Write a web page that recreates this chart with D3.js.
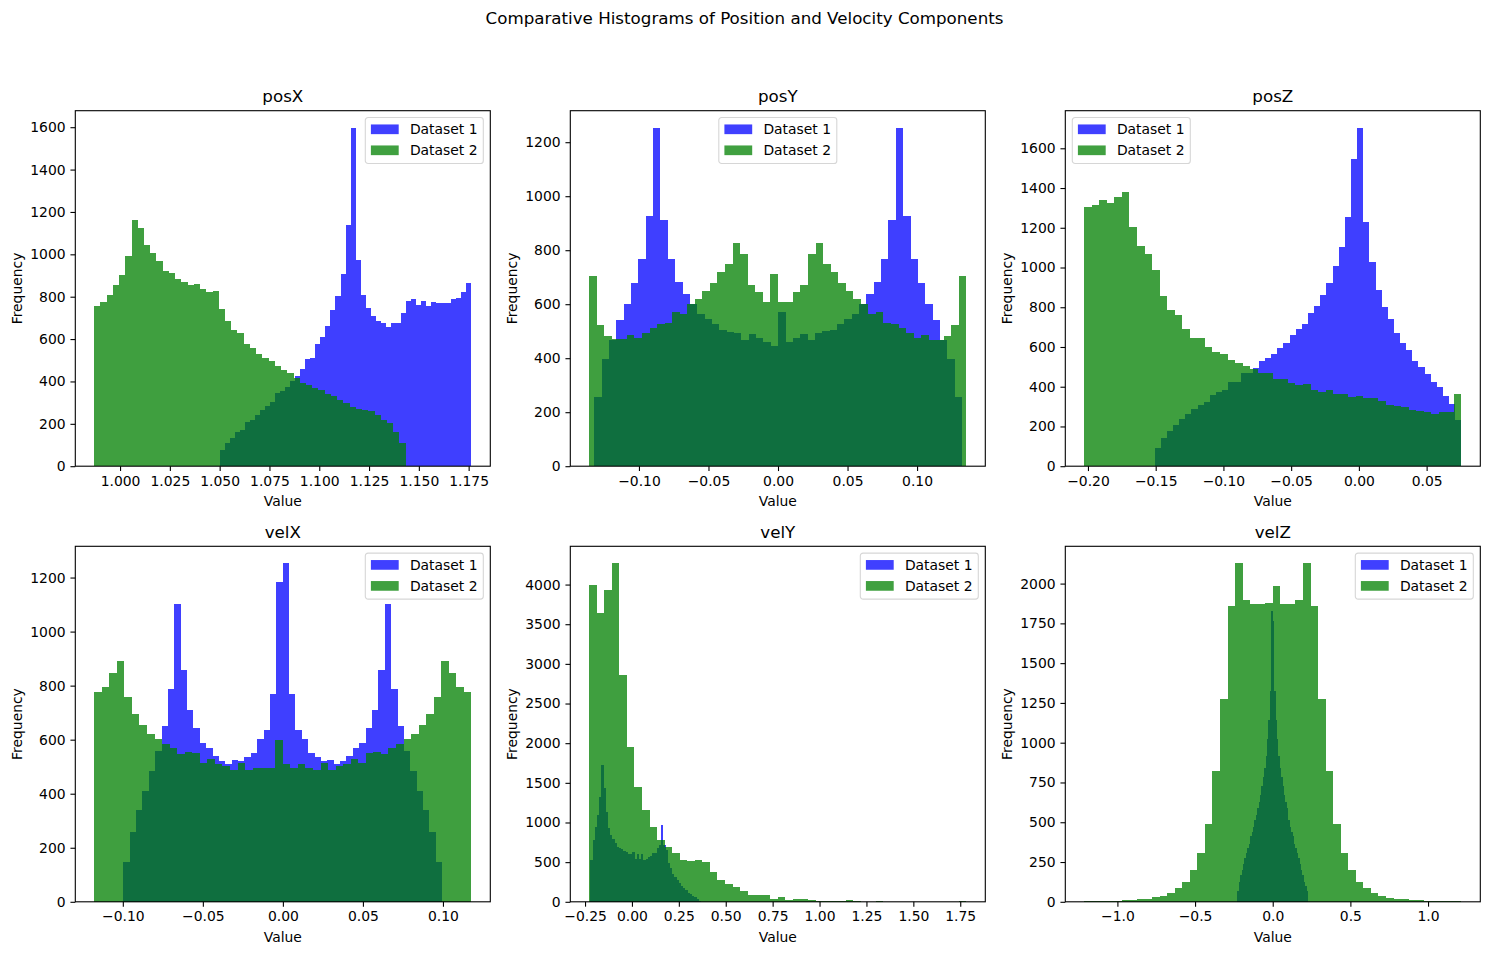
<!DOCTYPE html>
<html><head><meta charset="utf-8">
<script src="https://cdn.jsdelivr.net/npm/d3@7"></script>
<style>body{margin:0;background:#fff}svg{display:block}text{font-family:"DejaVu Sans",sans-serif;fill:#000}</style>
</head><body><svg id="c" width="1489" height="955"></svg>
<script>
const suptitle = "Comparative Histograms of Position and Velocity Components";
const panelNames = ["posX","posY","posZ","velX","velY","velZ"];
const seriesNames = ["Dataset 1","Dataset 2"];
const xLabel = "Value", yLabel = "Frequency";

// bin ranges [min, max] (50 bins each)
const posX_range1 = [1.0500, 1.1764];
const posX_range2 = [0.9870, 1.1434];
const posY_range1 = [-0.1321, 0.1323];
const posY_range2 = [-0.1358, 0.1355];
const posZ_range1 = [-0.1508, 0.0757];
const posZ_range2 = [-0.2028, 0.0757];
const velX_range1 = [-0.0997, 0.0995];
const velX_range2 = [-0.1179, 0.1178];
const velY_range1 = [-0.222, 0.368];
const velY_range2 = [-0.228, 1.783];
const velZ_range1 = [-0.2275, 0.2275];
const velZ_range2 = [-1.214, 1.215];

// counts
const posX_counts1 = [75,108,132,160,170,207,217,240,264,283,301,344,353,372,400,424,457,504,513,579,612,664,735,801,909,1140,1598,975,810,749,707,683,674,655,678,678,721,782,787,763,782,758,777,772,772,772,787,796,820,867];
const posX_counts2 = [754,777,810,853,904,994,1163,1126,1046,1008,970,923,914,885,871,857,862,838,820,829,744,683,641,631,575,556,528,513,495,471,452,440,414,391,382,367,358,339,330,311,297,278,268,264,259,240,217,203,160,108];
const posY_counts1 = [257,396,468,541,600,678,767,926,1254,911,767,681,637,599,565,544,526,504,496,493,467,489,474,459,444,570,459,474,489,467,493,500,504,526,544,565,599,637,681,767,911,1254,926,767,678,600,541,468,396,257];
const posY_counts2 = [704,522,481,470,470,485,474,493,511,526,530,570,565,599,621,648,678,718,748,826,785,670,644,607,711,607,607,644,670,785,826,748,718,678,648,621,599,565,570,530,526,511,493,474,485,468,468,481,522,704];
const posZ_counts1 = [90,141,176,206,236,261,286,306,321,356,372,382,422,422,467,470,492,527,547,567,597,618,658,688,718,773,808,864,924,1009,1105,1255,1546,1704,1230,1029,889,803,743,668,618,587,527,497,462,422,397,351,311,231];
const posZ_counts2 = [1305,1315,1341,1325,1356,1381,1205,1110,1069,989,859,788,763,693,643,643,602,577,567,532,517,502,490,467,467,437,437,417,407,412,382,372,382,361,361,346,351,341,341,326,306,301,296,281,276,271,261,271,271,361];
const velX_counts1 = [148,259,340,410,484,558,651,787,1102,858,710,643,588,569,540,521,510,525,521,536,551,603,636,769,1183,1253,769,636,603,551,536,521,525,510,521,540,569,588,643,710,858,1102,787,651,558,484,410,340,259,148];
const velX_counts2 = [776,795,847,891,758,695,654,621,603,584,569,547,554,551,514,529,510,503,488,514,488,495,495,495,599,510,495,510,495,488,514,488,503,510,529,514,551,554,547,569,584,603,621,654,695,758,891,847,795,776];
const velY_counts1 = [526,779,947,1095,1326,1726,1431,1137,926,842,787,737,695,674,661,640,632,602,602,632,539,602,539,602,526,539,568,577,610,619,674,716,968,716,653,484,421,349,316,274,232,198,168,147,114,93,76,55,34,13];
const velY_counts2 = [3992,3640,3929,4269,2859,1948,1448,1159,945,781,693,617,529,516,529,504,378,277,227,189,139,88,88,88,38,63,25,38,38,25,13,13,13,13,25,13,3,2,13,0,0,0,0,0,0,0,0,0,0,13];
const velZ_counts1 = [69,126,170,201,239,277,308,340,365,415,441,472,516,548,592,629,673,730,787,843,919,1026,1145,1322,1825,1762,1322,1145,1026,919,843,787,730,673,629,592,516,472,441,415,365,340,308,277,239,201,170,126,100,69];
const velZ_counts2 = [6,2,6,8,6,13,13,19,19,31,38,56,88,126,201,308,490,822,1274,1858,2128,1895,1870,1870,1877,1983,1870,1870,1895,2128,1858,1274,822,490,308,201,126,88,56,38,25,19,19,13,13,6,6,6,2,6];

// ticks
const posX_xticks = [1.000,1.025,1.050,1.075,1.100,1.125,1.150,1.175];
const posX_yticks = [0,200,400,600,800,1000,1200,1400,1600];
const posY_xticks = [-0.10,-0.05,0.00,0.05,0.10];
const posY_yticks = [0,200,400,600,800,1000,1200];
const posZ_xticks = [-0.20,-0.15,-0.10,-0.05,0.00,0.05];
const posZ_yticks = [0,200,400,600,800,1000,1200,1400,1600];
const velX_xticks = [-0.10,-0.05,0.00,0.05,0.10];
const velX_yticks = [0,200,400,600,800,1000,1200];
const velY_xticks = [-0.25,0.00,0.25,0.50,0.75,1.00,1.25,1.50,1.75];
const velY_yticks = [0,500,1000,1500,2000,2500,3000,3500,4000];
const velZ_xticks = [-1.0,-0.5,0.0,0.5,1.0];
const velZ_yticks = [0,250,500,750,1000,1250,1500,1750,2000];

const xtickFormats = [".3f",".2f",".2f",".2f",".2f",".1f"];

const panels = [
  {r1:posX_range1,r2:posX_range2,c1:posX_counts1,c2:posX_counts2,xt:posX_xticks,yt:posX_yticks},
  {r1:posY_range1,r2:posY_range2,c1:posY_counts1,c2:posY_counts2,xt:posY_xticks,yt:posY_yticks},
  {r1:posZ_range1,r2:posZ_range2,c1:posZ_counts1,c2:posZ_counts2,xt:posZ_xticks,yt:posZ_yticks},
  {r1:velX_range1,r2:velX_range2,c1:velX_counts1,c2:velX_counts2,xt:velX_xticks,yt:velX_yticks},
  {r1:velY_range1,r2:velY_range2,c1:velY_counts1,c2:velY_counts2,xt:velY_xticks,yt:velY_yticks},
  {r1:velZ_range1,r2:velZ_range2,c1:velZ_counts1,c2:velZ_counts2,xt:velZ_xticks,yt:velZ_yticks}
];
const legendLocs = ["upper right","upper center","upper left","upper right","upper right","upper right"];

// layout
const colLeft = [75.3, 570.3, 1065.3], axW = 415;
const rowTop = [110.7, 546.3], axH = 355.5;
const FS = 13.9, TFS = 16.7, TICK = 4.86;
const colors = ["blue","green"];

const svg = d3.select("#c");
svg.append("text").attr("x",744.5).attr("y",24).attr("text-anchor","middle")
  .style("font-size",TFS+"px").text(suptitle);

const minus = s => s.replace(/-/g,"\u2212");

panels.forEach((p,idx)=>{
  const left = colLeft[idx%3], top = rowTop[Math.floor(idx/3)];
  const right = left+axW, bottom = top+axH;
  const lo = Math.min(p.r1[0],p.r2[0]), hi = Math.max(p.r1[1],p.r2[1]);
  const R = hi-lo;
  const x = d3.scaleLinear().domain([lo-0.05*R, hi+0.05*R]).range([left,right]);
  const ymax = d3.max(p.c1.concat(p.c2))*1.05;
  const y = d3.scaleLinear().domain([0,ymax]).range([bottom,top]);
  const g = svg.append("g");

  [[p.r1,p.c1,colors[0]],[p.r2,p.c2,colors[1]]].forEach(([rg,cs,col])=>{
    const n = cs.length, w = (rg[1]-rg[0])/n;
    const bins = cs.map((c,i)=>({x0:rg[0]+i*w, x1:rg[0]+(i+1)*w, c}));
    g.append("g").attr("opacity",0.75).selectAll("rect").data(bins).join("rect")
      .attr("x",d=>x(d.x0)).attr("width",d=>x(d.x1)-x(d.x0))
      .attr("y",d=>y(d.c)).attr("height",d=>y(0)-y(d.c))
      .attr("fill",col).attr("shape-rendering","crispEdges");
  });

  // axes
  const fmt = d3.format(xtickFormats[idx]);
  const xa = g.append("g").attr("transform",`translate(0,${bottom})`)
    .call(d3.axisBottom(x).tickValues(p.xt).tickFormat(d=>minus(fmt(d))).tickSize(TICK).tickPadding(4.86));
  const ya = g.append("g").attr("transform",`translate(${left},0)`)
    .call(d3.axisLeft(y).tickValues(p.yt).tickFormat(d3.format("d")).tickSize(TICK).tickPadding(4.86));
  [xa,ya].forEach(a=>{
    a.select(".domain").remove();
    a.selectAll("line").attr("stroke","#000").attr("stroke-width",1.1);
    a.selectAll("text").style("font-size",FS+"px").attr("font-family","DejaVu Sans").attr("fill","#000");
  });
  g.append("rect").attr("x",left).attr("y",top).attr("width",axW).attr("height",axH)
    .attr("fill","none").attr("stroke","#000").attr("stroke-width",1.1);

  // labels
  g.append("text").attr("x",(left+right)/2).attr("y",top-8.3).attr("text-anchor","middle")
    .style("font-size",TFS+"px").text(panelNames[idx]);
  g.append("text").attr("x",(left+right)/2).attr("y",bottom+40).attr("text-anchor","middle")
    .style("font-size",FS+"px").text(xLabel);
  g.append("text").attr("transform",`translate(${left-53},${(top+bottom)/2}) rotate(-90)`)
    .attr("text-anchor","middle").style("font-size",FS+"px").text(yLabel);

  // legend
  const LW = 118, LH = 46;
  const loc = legendLocs[idx];
  let lx = right-7-LW;
  if (loc==="upper left") lx = left+7;
  if (loc==="upper center") lx = (left+right)/2-LW/2;
  const ly = top+6.8;
  const lg = g.append("g").attr("transform",`translate(${lx},${ly})`);
  lg.append("rect").attr("width",LW).attr("height",LH).attr("rx",2.8)
    .attr("fill","#fff").attr("fill-opacity",0.8).attr("stroke","#cccccc").attr("stroke-opacity",0.8).attr("stroke-width",1.1);
  seriesNames.forEach((s,i)=>{
    const cy = 11.8 + i*21;
    lg.append("rect").attr("x",5.6).attr("y",cy-4.85).attr("width",27.8).attr("height",9.7)
      .attr("fill",colors[i]).attr("fill-opacity",0.75);
    lg.append("text").attr("x",44.6).attr("y",cy).attr("dy","0.36em")
      .style("font-size",FS+"px").text(s);
  });
});
</script></body></html>
